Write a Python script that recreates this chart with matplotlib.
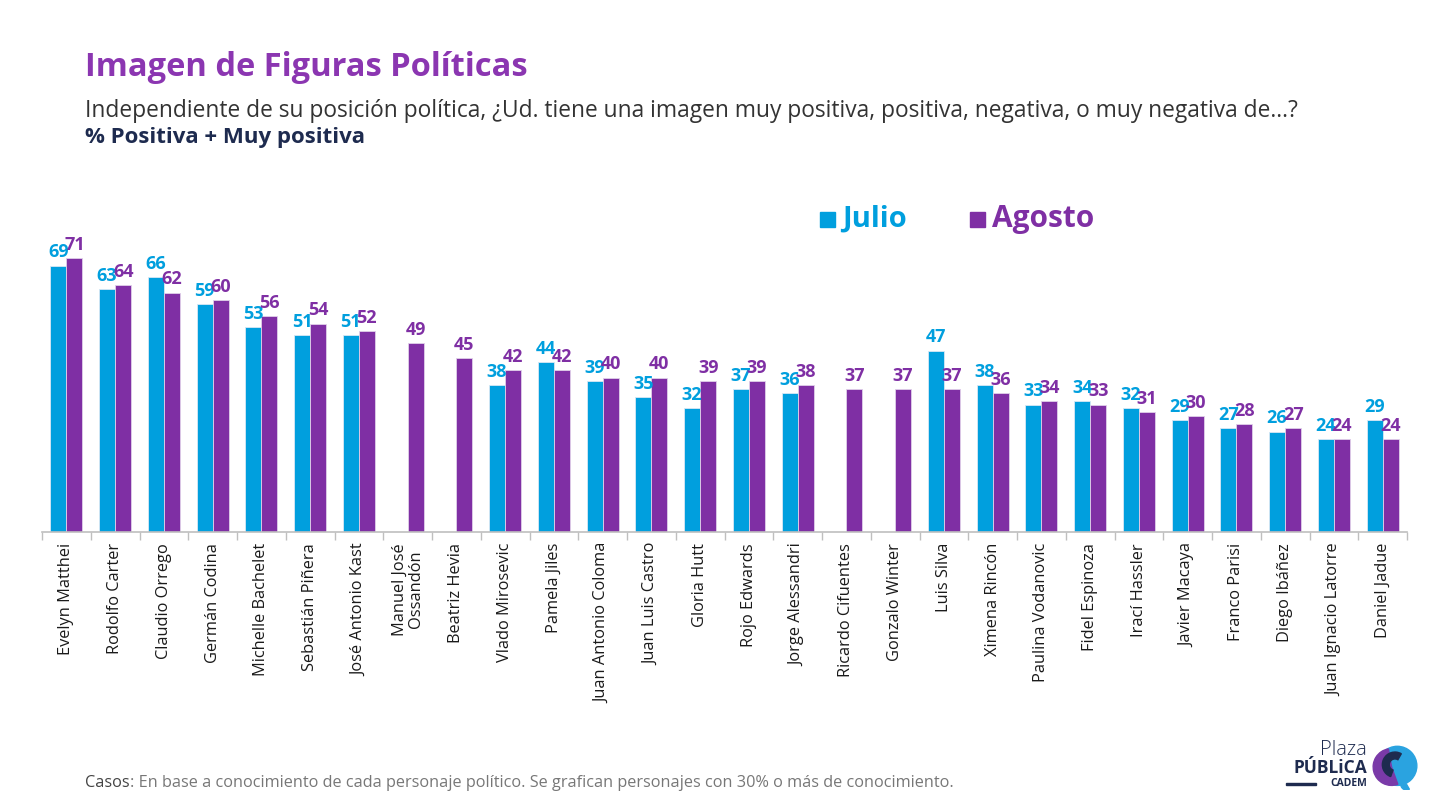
import numpy as np
import matplotlib
matplotlib.use("Agg")
import matplotlib.pyplot as plt
from matplotlib.patches import Circle, Wedge, Rectangle

# Data
nombres = ['Evelyn Matthei', 'Rodolfo Carter', 'Claudio Orrego', 'Germán Codina',
           'Michelle Bachelet', 'Sebastián Piñera', 'José Antonio Kast',
           'Manuel José\nOssandón', 'Beatriz Hevia', 'Vlado Mirosevic', 'Pamela Jiles',
           'Juan Antonio Coloma', 'Juan Luis Castro', 'Gloria Hutt', 'Rojo Edwards',
           'Jorge Alessandri', 'Ricardo Cifuentes', 'Gonzalo Winter', 'Luis Silva',
           'Ximena Rincón', 'Paulina Vodanovic', 'Fidel Espinoza', 'Irací Hassler',
           'Javier Macaya', 'Franco Parisi', 'Diego Ibáñez', 'Juan Ignacio Latorre',
           'Daniel Jadue']
julio = [69, 63, 66, 59, 53, 51, 51, None, None, 38, 44, 39, 35, 32, 37, 36,
         None, None, 47, 38, 33, 34, 32, 29, 27, 26, 24, 29]
agosto = [71, 64, 62, 60, 56, 54, 52, 49, 45, 42, 42, 40, 40, 39, 39, 38,
          37, 37, 37, 36, 34, 33, 31, 30, 28, 27, 24, 24]

c_julio = '#009FDE'
c_agosto = '#7F2FA4'
c_title = '#8B36B1'
c_navy = '#1E2B4F'

plt.rcParams['font.family'] = ['Open Sans', 'DejaVu Sans']

fig = plt.figure(figsize=(14.53, 8.06), dpi=100)
fig.patch.set_facecolor('white')

ax = fig.add_axes([42 / 1453, 1 - 532 / 806, 1365 / 1453, 332 / 806])
x = np.arange(len(nombres))
w = 0.33

for i in range(len(nombres)):
    if julio[i] is not None:
        ax.bar(x[i] - w / 2, julio[i], w, color=c_julio, edgecolor='#d8e8f5', linewidth=0.6)
        ax.annotate(str(julio[i]), (x[i] - w / 2, julio[i]), xytext=(0, 3),
                    textcoords='offset points', ha='center', va='bottom',
                    color=c_julio, fontsize=13, fontweight='bold')
    ax.bar(x[i] + w / 2, agosto[i], w, color=c_agosto, edgecolor='#e0d0ea', linewidth=0.6)
    ax.annotate(str(agosto[i]), (x[i] + w / 2, agosto[i]), xytext=(0, 3),
                textcoords='offset points', ha='center', va='bottom',
                color=c_agosto, fontsize=13, fontweight='bold')

ax.set_xlim(-0.5, len(nombres) - 0.5)
ax.set_ylim(0, 86)
for s in ['top', 'right', 'left']:
    ax.spines[s].set_visible(False)
ax.spines['bottom'].set_color('#bfbfbf')
ax.spines['bottom'].set_linewidth(1.2)
ax.set_yticks([])
ax.set_xticks(x)
ax.set_xticklabels(nombres, rotation=90, fontsize=11.8, color='#1a1a1a',
                   va='top', ha='center', linespacing=1.0)
ax.tick_params(axis='x', which='major', length=0, pad=8)
ax.set_xticks(np.arange(-0.5, len(nombres)), minor=True)
ax.tick_params(axis='x', which='minor', length=6, color='#bfbfbf', width=1)

# Titles
fig.text(85 / 1453, 1 - 68 / 806, 'Imagen de Figuras Políticas', color=c_title,
         fontsize=23.5, fontweight='bold', va='center', ha='left')
fig.text(85 / 1453, 1 - 111 / 806,
         'Independiente de su posición política, ¿Ud. tiene una imagen muy positiva, positiva, negativa, o muy negativa de…?',
         color='#333333', fontsize=16.4, va='center', ha='left')
fig.text(85 / 1453, 1 - 137 / 806, '% Positiva + Muy positiva', color=c_navy,
         fontsize=16, fontweight='bold', va='center', ha='left')

# Legend
fig.add_artist(Rectangle((820 / 1453, 1 - 227 / 806), 15 / 1453, 15 / 806,
                         transform=fig.transFigure, color=c_julio))
fig.text(842 / 1453, 1 - 219 / 806, 'Julio', color=c_julio, fontsize=21,
         fontweight='bold', va='center', ha='left')
fig.add_artist(Rectangle((970 / 1453, 1 - 227 / 806), 15 / 1453, 15 / 806,
                         transform=fig.transFigure, color=c_agosto))
fig.text(992 / 1453, 1 - 219 / 806, 'Agosto', color=c_agosto, fontsize=21.5,
         fontweight='bold', va='center', ha='left')

# Footer
casos = fig.text(85 / 1453, 1 - 787 / 806, 'Casos', color='#444444', fontsize=11.7,
                 va='baseline', ha='left')
ax.annotate(': En base a conocimiento de cada personaje político. Se grafican personajes con 30% o más de conocimiento.',
            xy=(1, 0), xycoords=casos, va='bottom', ha='left',
            color='#777777', fontsize=11.7, annotation_clip=False)

# Logo (approximation)
fig.text(1367 / 1453, 1 - 750 / 806, 'Plaza', color=c_navy, fontsize=14.5,
         fontweight='light', ha='right', va='center')
fig.text(1367 / 1453, 1 - 768 / 806, 'PÚBLiCA', color=c_navy, fontsize=12.5,
         fontweight='bold', ha='right', va='center')
fig.text(1367 / 1453, 1 - 783 / 806, 'CADEM', color=c_navy, fontsize=7.5,
         fontweight='bold', ha='right', va='center')
fig.add_artist(Rectangle((1286 / 1453, 1 - 785 / 806), 30 / 1453, 2 / 806,
                         transform=fig.transFigure, color=c_navy))
lax = fig.add_axes([1372 / 1453, 1 - 790 / 806, 46 / 1453, 46 / 806])
lax.set_xlim(-1, 1)
lax.set_ylim(-1, 1)
lax.set_aspect('equal')
lax.axis('off')
lax.add_patch(Circle((0.1, 0.05), 0.85, color='#2AA3E0'))
lax.add_patch(Wedge((-0.15, 0.0), 0.8, 100, 290, color='#7A3AA8'))
lax.add_patch(Wedge((0.0, 0.1), 0.55, 60, 250, width=0.3, color=c_navy))
lax.add_patch(Wedge((0.5, -0.75), 0.25, 180, 300, color='#2AA3E0'))

fig.savefig('out.png', dpi=100, facecolor='white')
